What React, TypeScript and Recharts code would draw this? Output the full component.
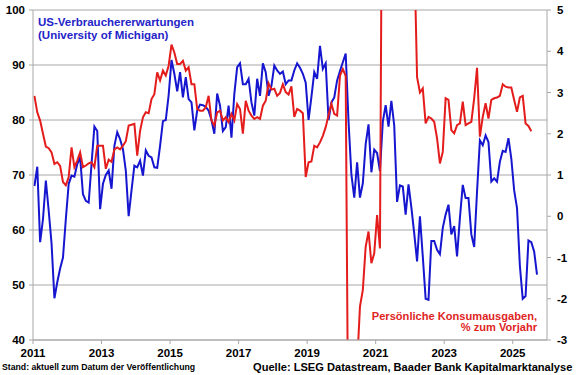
import { LineChart, Line, XAxis, YAxis, CartesianGrid } from "recharts";

// monthly series, first value = Jan 2011
const START_YEAR = 2011;

// University of Michigan, index of consumer expectations (left axis)
const expectations = [
  68, 71.5, 57.8, 62, 69, 63.5, 57.5, 47.6, 50.5, 53, 55, 62,
  68.4, 69.9, 69.7, 72, 73.2, 66.5, 65.3, 65, 72, 78.8, 78, 63.8,
  68.4, 70, 70.8, 67.5, 75.3, 77.8, 76.5, 74.7, 70.8, 62.5, 67.2, 71.7,
  71.4, 72.6, 69.9, 74.5, 73.5, 73.2, 71.4, 71.3, 75.3, 79.8, 80, 84.5,
  90.9, 88.4, 85.2, 88.7, 84.1, 87.8, 83.8, 83.2, 78.1, 81.7, 82.8, 82.7,
  82.4, 81.7, 80, 77.5, 84.8, 82.6, 78, 78.7, 82.6, 76.8, 84.7, 89.6,
  90.3, 86.5, 86.5, 87.5, 83.2, 80.8, 87.5, 84.4, 90.3, 88.7, 84.4, 86.2,
  89.9, 89, 88.4, 88.8, 86.5, 87.2, 87.2, 89, 90.3, 89.5, 88.4, 86.8,
  80, 84.2, 88.7, 87.5, 93.5, 89.3, 90.3, 80, 83.2, 84.1, 87.2, 88.9,
  90.5, 92.1, 79.7, 70.1, 65.9, 72.3, 65.9, 68.5, 75.6, 79.2, 70.5, 74.6,
  74, 70.7, 79.7, 82.7, 78.8, 83.5, 79, 65.1, 68.1, 67.9, 62.8, 68.3,
  64.1, 59.4, 54.3, 62.5, 55.2, 47.5, 47.3, 58, 58, 56.4, 55.6, 60.4,
  62.8, 64.6, 59.2, 60.7, 55.2, 62.2, 68.2, 65.8, 65.8, 59.2, 56.9, 67,
  76.3, 75.4, 77.2, 76, 68.8, 69.4, 68.8, 72.4, 74.4, 74.2, 76.7, 73,
  67.2, 64, 53.5, 47.5, 48, 58.1, 57.8, 56.1, 51.9,
];

// personal consumption expenditures, % yoy (right axis)
const consumption = [
  2.92, 2.52, 2.32, 2.0, 1.69, 1.65, 1.55, 1.27, 1.31, 1.22, 0.83, 0.75,
  0.95, 1.67, 1.19, 1.35, 1.55, 1.19, 1.23, 1.28, 1.31, 1.19, 1.71, 1.71,
  1.71, 1.15, 1.37, 1.32, 1.62, 1.67, 1.62, 1.71, 1.82, 2.2, 2.22, 2.24,
  1.47, 2.07, 2.4, 2.52, 2.5, 2.84, 2.96, 3.49, 3.29, 3.53, 3.41, 3.65,
  4.16, 3.97, 3.69, 3.69, 3.77, 3.53, 3.61, 3.2, 3.2, 2.6, 2.56, 2.56,
  2.64, 2.92, 2.32, 2.2, 2.52, 2.56, 2.32, 2.4, 2.28, 2.48, 2.32, 2.72,
  2.6, 2.0, 2.8, 2.56, 2.44, 2.36, 2.4, 2.36, 2.68, 2.8, 3.22, 3.07,
  3.09, 2.92, 2.99, 3.2, 3.01, 2.95, 3.15, 2.41, 2.6, 2.56, 2.5, 0.95,
  1.31, 1.33, 1.71, 1.67, 1.79, 1.95, 2.16, 2.45, 2.73, 2.48, 2.44, 3.41,
  3.57, 3.4, -6.5, -17, -11, -3.6, -2.19, -1.79, -0.74, -0.37, -1.14, -0.9,
  0.03, -0.78, 12, 26, 16, 11, 9, 7, 6.5, 6.2, 6.5, 6.3,
  6, 6.5, 3.37, 3.0, 3.1, 2.25, 2.41, 2.37, 2.29, 1.89, 1.28, 1.56,
  2.86, 2.82, 2.09, 2.01, 2.21, 2.25, 2.78, 2.21, 2.25, 2.29, 2.86, 3.6,
  1.93, 2.41, 2.74, 2.37, 2.82, 2.86, 2.88, 2.92, 3.2, 3.14, 3.12, 3.12,
  2.82, 2.53, 2.88, 2.92, 2.25, 2.19, 2.06,
];

const yearTicks = [2011, 2013, 2015, 2017, 2019, 2021, 2023, 2025];
const leftTicks = [40, 50, 60, 70, 80, 90, 100];
const rightTicks = [-3, -2, -1, 0, 1, 2, 3, 4, 5];

const data = expectations.map((v, i) => ({
  t: START_YEAR + (i + 0.5) / 12,
  michigan: v,
  pce: i < consumption.length ? consumption[i] : null,
}));

const BLUE = "#1616d0";
const RED = "#e41c1c";
const GRID = "#a8a8a8";
const tickStyle = { fontSize: 11.5, fontWeight: 700, fill: "#000" };

export default function App() {
  return (
    <div
      style={{
        position: "absolute",
        left: 0,
        top: 0,
        width: 580,
        height: 375,
        background: "#fff",
        fontFamily: "'Liberation Sans', Arial, sans-serif",
      }}
    >
      <LineChart width={580} height={375} data={data} margin={{ top: 10, right: 5, bottom: 15, left: 5 }}>
        <CartesianGrid yAxisId="left" vertical={false} stroke={GRID} />
        <XAxis
          dataKey="t"
          type="number"
          domain={[2011, 2026]}
          ticks={yearTicks}
          height={20}
          tickSize={4}
          tickMargin={5}
          tick={tickStyle}
          axisLine={{ stroke: GRID }}
          tickLine={{ stroke: GRID }}
        />
        <YAxis
          yAxisId="left"
          domain={[40, 100]}
          ticks={leftTicks}
          width={28}
          tickSize={4}
          tickMargin={4}
          tick={tickStyle}
          axisLine={{ stroke: GRID }}
          tickLine={{ stroke: GRID }}
        />
        <YAxis
          yAxisId="right"
          orientation="right"
          domain={[-3, 5]}
          allowDataOverflow
          ticks={rightTicks}
          width={28}
          tickSize={4}
          tickMargin={6}
          tick={tickStyle}
          axisLine={{ stroke: GRID }}
          tickLine={{ stroke: GRID }}
        />
        <Line
          yAxisId="left"
          dataKey="michigan"
          stroke={BLUE}
          strokeWidth={2}
          dot={false}
          isAnimationActive={false}
        />
        <Line
          yAxisId="right"
          dataKey="pce"
          stroke={RED}
          strokeWidth={2}
          dot={false}
          isAnimationActive={false}
        />
      </LineChart>

      <div
        style={{
          position: "absolute",
          left: 38,
          top: 16,
          fontSize: 11.5,
          lineHeight: "12.5px",
          fontWeight: 700,
          color: "#2424c8",
        }}
      >
        US-Verbrauchererwartungen
        <br />
        (University of Michigan)
      </div>

      <div
        style={{
          position: "absolute",
          right: 43,
          top: 311,
          fontSize: 11.1,
          lineHeight: "11.2px",
          fontWeight: 700,
          color: "#e02424",
          textAlign: "right",
        }}
      >
        Persönliche Konsumausgaben,
        <br />
        % zum Vorjahr
      </div>

      <div
        style={{
          position: "absolute",
          left: 2,
          top: 362,
          fontSize: 8.7,
          fontWeight: 700,
          color: "#000",
          whiteSpace: "nowrap",
        }}
      >
        Stand: aktuell zum Datum der Veröffentlichung
      </div>

      <div
        style={{
          position: "absolute",
          left: 253,
          top: 361,
          fontSize: 11.1,
          fontWeight: 700,
          color: "#000",
          whiteSpace: "nowrap",
        }}
      >
        Quelle: LSEG Datastream, Baader Bank Kapitalmarktanalyse
      </div>
    </div>
  );
}
